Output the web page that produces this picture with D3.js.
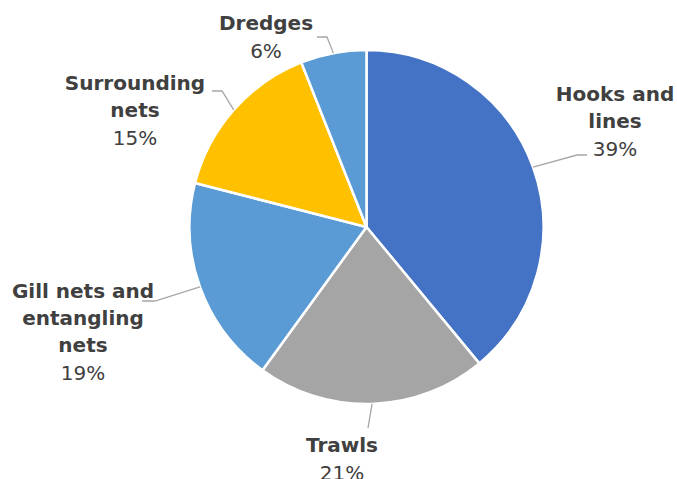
<!DOCTYPE html>
<html lang="en">
<head>
    <meta charset="UTF-8">
    <title>Fishing gear</title>
    <style>
        body {
            margin: 0;
            padding: 0;
            background-color: #ffffff;
            font-family: 'DejaVu Sans', Verdana, sans-serif;
        }
        .name { font-weight: bold; fill: #404040; font-size: 20px; }
        .pct { fill: #404040; font-size: 20px; }
    </style>
</head>
<body>
    <svg width="677" height="479"></svg>
    <script src="https://d3js.org/d3.v7.min.js"></script>
    <script>
        // data
        const categories = ["Hooks and lines", "Trawls", "Gill nets and entangling nets", "Surrounding nets", "Dredges"];
        const shares = [39, 21, 19, 15, 6];
        // label lines as shown in the original
        const labelLines = [["Hooks and", "lines"], ["Trawls"], ["Gill nets and", "entangling", "nets"], ["Surrounding", "nets"], ["Dredges"]];
        const colors = ["#4472c4", "#a5a5a5", "#5b9bd5", "#ffc000", "#5b9bd5"];

        // label placement (layout, not data): text centre x, first baseline y, leader elbow
        const labelLayout = [
            {x: 615, y: 101, elbow: [577, 155], end: [587, 155]},
            {x: 342, y: 452, elbow: [368, 428], end: [368, 428]},
            {x: 83, y: 298, elbow: [155, 301], end: [142, 301]},
            {x: 135, y: 90, elbow: [222, 91], end: [212, 91]},
            {x: 266, y: 30, elbow: [327, 37], end: [317, 37]}
        ];

        const svg = d3.select("svg");
        const cx = 366.5, cy = 227, radius = 177;
        const chart = svg.append("g").attr("transform", `translate(${cx}, ${cy})`);

        const data = categories.map((c, i) => ({name: c, value: shares[i], i: i}));
        const pie = d3.pie().sort(null).value(d => d.value);
        const arcs = pie(data);
        const arc = d3.arc().innerRadius(0).outerRadius(radius);

        chart.selectAll("path.slice")
            .data(arcs)
            .enter()
            .append("path")
            .attr("class", "slice")
            .attr("d", arc)
            .attr("fill", d => colors[d.data.i])
            .attr("stroke", "#ffffff")
            .attr("stroke-width", 2.5)
            .attr("stroke-linejoin", "round");

        // leader lines from the middle of each slice's rim to the label
        arcs.forEach(a => {
            const L = labelLayout[a.data.i];
            const ang = (a.startAngle + a.endAngle) / 2;
            const px = Math.sin(ang) * radius, py = -Math.cos(ang) * radius;
            const pts = [[px, py], [L.elbow[0] - cx, L.elbow[1] - cy], [L.end[0] - cx, L.end[1] - cy]];
            chart.append("path")
                .attr("d", d3.line()(pts))
                .attr("fill", "none")
                .attr("stroke", "#a6a6a6")
                .attr("stroke-width", 1.3);
        });

        // labels
        arcs.forEach(a => {
            const L = labelLayout[a.data.i];
            const lines = labelLines[a.data.i];
            const t = svg.append("text").attr("text-anchor", "middle");
            lines.forEach((ln, k) => {
                t.append("tspan")
                    .attr("class", "name")
                    .attr("x", L.x)
                    .attr("y", L.y + k * 27)
                    .text(ln);
            });
            t.append("tspan")
                .attr("class", "pct")
                .attr("x", L.x)
                .attr("y", L.y + lines.length * 27 + 1)
                .text(Math.round(a.data.value) + "%");
        });
    </script>
</body>
</html>
